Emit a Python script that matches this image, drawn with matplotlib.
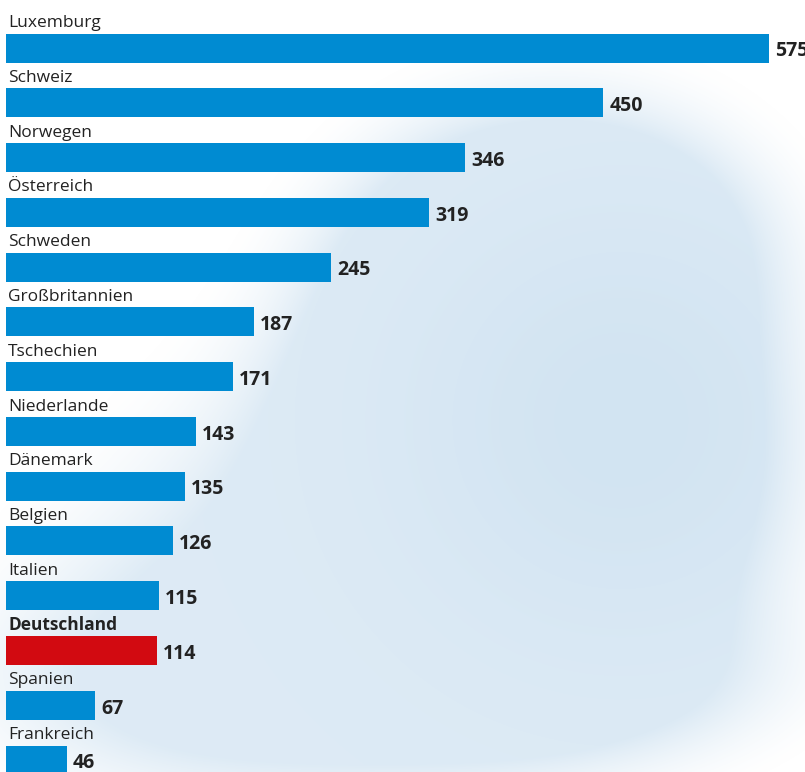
import numpy as np
import matplotlib.pyplot as plt
from matplotlib.colors import to_rgb

countries = ["Luxemburg", "Schweiz", "Norwegen", "Österreich", "Schweden",
             "Großbritannien", "Tschechien", "Niederlande", "Dänemark",
             "Belgien", "Italien", "Deutschland", "Spanien", "Frankreich"]
values = [575, 450, 346, 319, 245, 187, 171, 143, 135, 126, 115, 114, 67, 46]
highlight = "Deutschland"

W, H = 805, 772
fig = plt.figure(figsize=(W / 100, H / 100), dpi=100)

# watercolour backdrop
bg = fig.add_axes([0, 0, 1, 1], zorder=0)
yy, xx = np.mgrid[0:H, 0:W]
def blob(cx, cy, sx, sy, a):
    return a * np.exp(-(((xx - cx) / sx) ** 2 + ((yy - cy) / sy) ** 2) / 2)
f = (blob(590, 400, 160, 200, 1.0) + blob(380, 560, 230, 160, 0.75)
     + blob(580, 220, 130, 80, 0.5) + blob(150, 690, 180, 100, 0.45)
     + blob(520, 690, 220, 60, 0.35) + blob(440, 330, 120, 140, 0.5))
alpha = np.clip((f - 0.25) / 0.45, 0, 1) ** 1.3
shade = 0.75 + 0.25 * np.exp(-(((xx - 620) / 220.0) ** 2 + ((yy - 420) / 220.0) ** 2))
col = np.array(to_rgb("#d2e4f2"))
a = (alpha * shade)[..., None]
img = np.ones((H, W, 3)) * (1 - a) + col * a
bg.imshow(np.clip(img, 0, 1), extent=[0, W, H, 0], aspect="auto")
bg.axis("off")

ax = fig.add_axes([0, 0, 1, 1], zorder=1)
ax.patch.set_alpha(0)
px = 763 / 575
ax.set_xlim(-6 / px, (W - 6) / px)
step = 54.77
ax.set_ylim((H - 48) / step, -48 / step)
ax.axis("off")

y = np.arange(len(countries))
colors = ["#d20a11" if c == highlight else "#008bd2" for c in countries]
ax.barh(y, values, height=29 / step, color=colors, edgecolor="none")

for i, (c, v) in enumerate(zip(countries, values)):
    ax.text(2 / px, i - 0.38, c, fontsize=12.5, family="Open Sans",
            fontweight="bold" if c == highlight else "normal",
            color="#222222", va="baseline", ha="left")
    ax.text(v + 6 / px, i + 0.06, str(v), fontsize=14, family="Open Sans",
            fontweight="bold", color="#222222", va="center", ha="left")

fig.savefig("out.png", dpi=100)
